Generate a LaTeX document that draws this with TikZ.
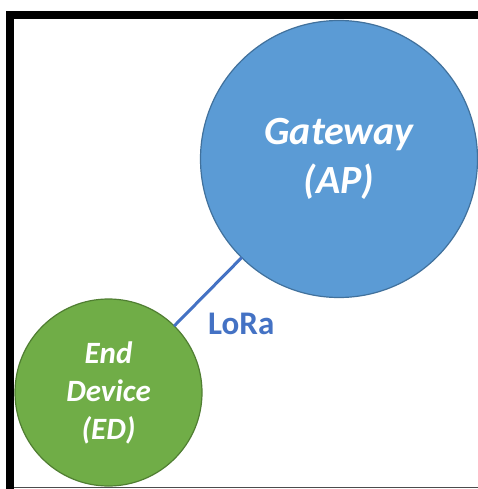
\documentclass[tikz,border=0pt]{standalone}
\usepackage{fontspec}
\setmainfont{Carlito}
\definecolor{gwfill}{HTML}{5B9BD5}
\definecolor{gwline}{HTML}{41719C}
\definecolor{edfill}{HTML}{70AD47}
\definecolor{edline}{HTML}{507E32}
\definecolor{loracol}{HTML}{4472C4}
\begin{document}
\begin{tikzpicture}[x=1pt,y=-1pt,
  station/.style={circle, inner sep=0pt, outer sep=0pt, line width=1.2pt,
    text=white, align=center, font=\bfseries\itshape},
  link/.style={draw=loracol, line width=3pt},
  linklabel/.style={text=loracol, font=\fontsize{33}{40}\selectfont\bfseries, inner sep=0pt}]
\useasboundingbox (0,0) rectangle (478,489);
% frame
\fill[white] (0,0) rectangle (478,489);
\fill[black] (6,11) rectangle (478,19);
\fill[black] (6,11) rectangle (14,489);
\draw[black!70, line width=1pt] (14,487.5) -- (478,487.5);
% stations
\node[station, fill=gwfill, draw=gwline, minimum size=277pt,
  font=\fontsize{40}{49}\selectfont\bfseries\itshape] (gw) at (339,159) {Gateway\\(AP)};
\node[station, fill=edfill, draw=edline, minimum size=187pt,
  font=\fontsize{31}{38}\selectfont\bfseries\itshape] (ed) at (108.5,392.5) {End\\Device\\(ED)};
% radio link
\draw[link] (ed) -- (gw);
\node[linklabel, anchor=base west] (lbl) at (208,334) {LoRa};
\end{tikzpicture}
\end{document}
